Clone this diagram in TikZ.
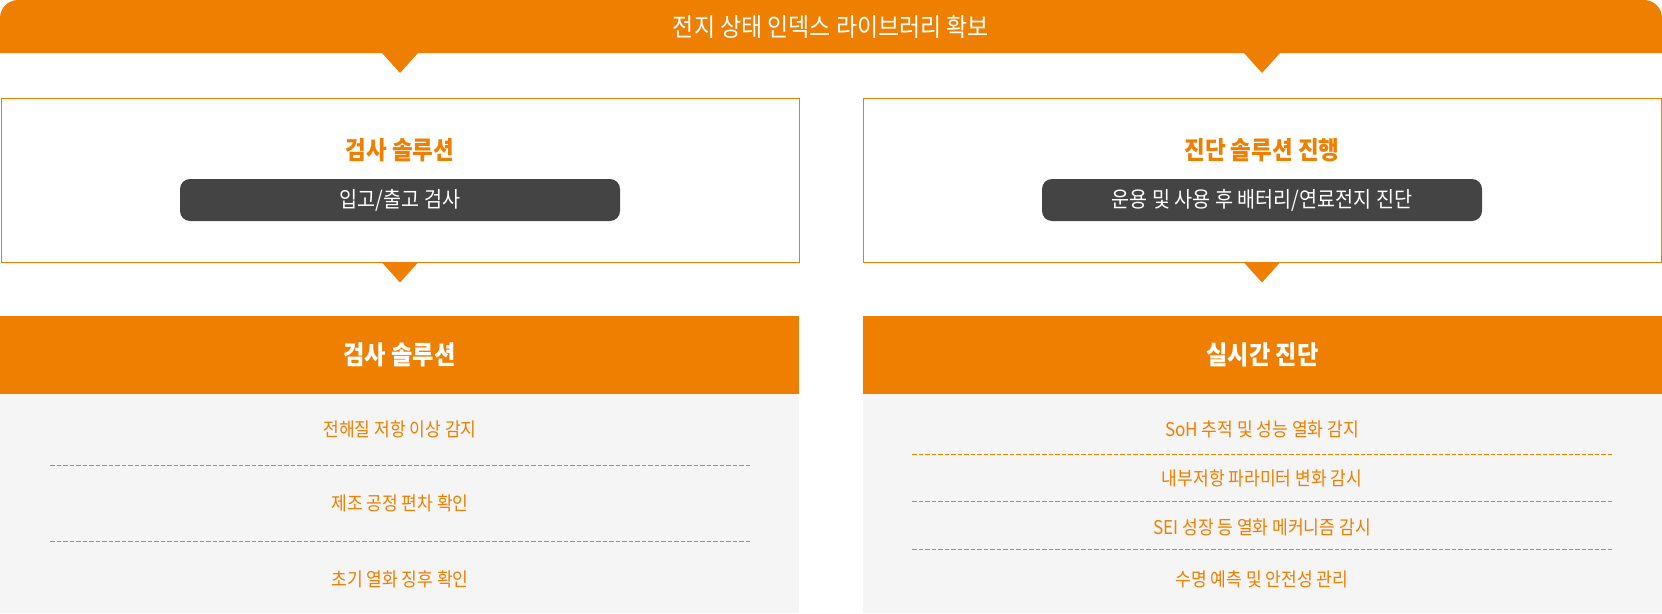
\documentclass[tikz,border=0pt]{standalone}
\usepackage{fontspec}
\setmainfont{Noto Sans CJK KR}[FakeStretch=0.9]
\usepackage{tikz}
\usetikzlibrary{calc}
\usetikzlibrary{positioning}
\definecolor{brandorange}{HTML}{EF7F00}
\definecolor{pillgray}{HTML}{444444}
\definecolor{panelgray}{HTML}{F5F5F5}
\tikzset{
  bannertext/.style={text=white,font=\fontsize{25.5}{30}\selectfont},
  boxtitle/.style={text=brandorange,font=\fontsize{25}{30}\selectfont\bfseries},
  outlinebox/.style={draw=brandorange,line width=1pt,minimum width=798pt,minimum height=164pt,inner sep=0pt},
  pill/.style={fill=pillgray,rounded corners=10pt,minimum width=440pt,minimum height=42pt,text=white,font=\fontsize{21.8}{26}\selectfont},
  headbar/.style={fill=brandorange,minimum width=799pt,minimum height=78pt,inner sep=0pt,text=white,font=\fontsize{25.8}{30}\selectfont\bfseries},
  itemtext/.style={text=brandorange,font=\fontsize{19}{23}\selectfont},
  sepline/.style={draw=brandorange,line width=0.8pt,dash pattern=on 4.5pt off 2pt},
  pointer/.style={fill=brandorange}
}
\begin{document}
\begin{tikzpicture}[x=1pt,y=-1pt]
\useasboundingbox (0,0) rectangle (1662,613);
% top banner
\fill[brandorange] (0,53) [rounded corners=18pt] -- (0,0) -- (1662,0) [sharp corners] -- (1662,53) -- cycle;
\node[bannertext] (banner) at (831,26.5) {전지 상태 인덱스 라이브러리 확보};
% upper boxes
\node[outlinebox] (inspbox) at (400,180) {};
\node[outlinebox] (diagbox) at (1262,180) {};
\node[boxtitle] (insptitle) at (400,150) {검사 솔루션};
\node[boxtitle] (diagtitle) at (1262,150) {진단 솔루션 진행};
\node[pill] (insppill) at (400,200) {입고/출고 검사};
\node[pill] (diagpill) at (1262,200) {운용 및 사용 후 배터리/연료전지 진단};
% pointers
\fill[pointer] (inspbox.north) ++(-18,-44.5) -- ++(36,0) -- ++(-18,20) -- cycle;
\fill[pointer] (diagbox.north) ++(-18,-44.5) -- ++(36,0) -- ++(-18,20) -- cycle;
\fill[pointer] (inspbox.south) ++(-18,0) -- ++(36,0) -- ++(-18,20) -- cycle;
\fill[pointer] (diagbox.south) ++(-18,0) -- ++(36,0) -- ++(-18,20) -- cycle;
% lower panels
\fill[panelgray] (0,394) rectangle (799,613);
\fill[panelgray] (863,394) rectangle (1662,613);
\node[headbar] (insphead) at (399.5,355) {검사 솔루션};
\node[headbar] (diaghead) at (1262.5,355) {실시간 진단};
% inspection items
\node[itemtext] (i1) at (400,429) {전해질 저항 이상 감지};
\node[itemtext] (i2) at (400,503.5) {제조 공정 편차 확인};
\node[itemtext] (i3) at (400,579) {초기 열화 징후 확인};
\draw[sepline] (50,465) -- (750,465);
\draw[sepline] (50,541) -- (750,541);
% diagnosis items
\node[itemtext] (d1) at (1262,429) {SoH 추적 및 성능 열화 감지};
\node[itemtext] (d2) at (1262,478) {내부저항 파라미터 변화 감시};
\node[itemtext] (d3) at (1262,527) {SEI 성장 등 열화 메커니즘 감시};
\node[itemtext] (d4) at (1262,579) {수명 예측 및 안전성 관리};
\draw[sepline] (912,454) -- (1612,454);
\draw[sepline] (912,501.5) -- (1612,501.5);
\draw[sepline] (912,549.5) -- (1612,549.5);
\end{tikzpicture}
\end{document}
